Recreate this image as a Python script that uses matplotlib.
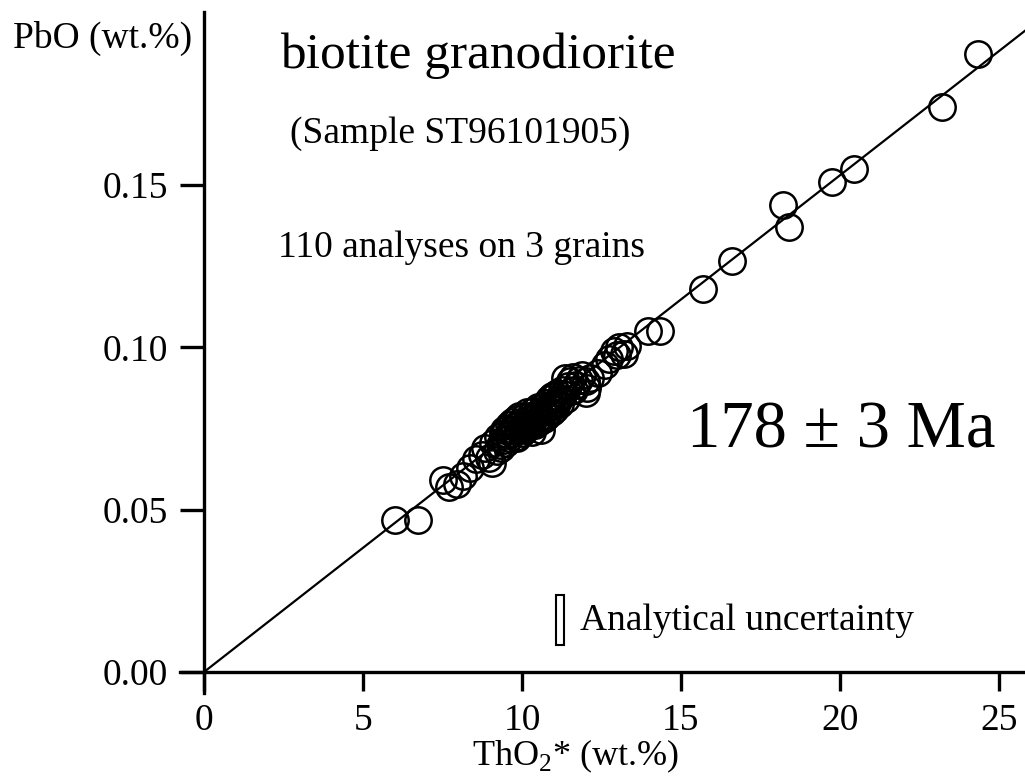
import matplotlib
matplotlib.use('Agg')
import matplotlib.pyplot as plt
from matplotlib.patches import Rectangle
import numpy as np

plt.rcParams['font.family'] = 'Liberation Serif'
plt.rcParams['mathtext.fontset'] = 'custom'
plt.rcParams['mathtext.rm'] = 'Liberation Serif'

# ThO2* and PbO (wt.%), 110 analyses
tho2 = [6.02, 6.73, 7.52, 7.70, 7.95, 8.15, 8.35, 8.55, 8.75, 8.85, 8.95, 9.05, 9.10, 9.20,
        9.25, 9.30, 9.35, 9.40, 9.45, 9.50, 9.50, 9.55, 9.60, 9.60, 9.65, 9.70, 9.70, 9.75,
        9.80, 9.80, 9.85, 9.90, 9.90, 9.95, 10.00, 10.00, 10.05, 10.10, 10.10, 10.15, 10.20,
        10.20, 10.25, 10.30, 10.30, 10.35, 10.40, 10.40, 10.45, 10.50, 10.50, 10.55, 10.60,
        10.60, 10.65, 10.70, 10.70, 10.75, 10.80, 10.80, 10.85, 10.90, 10.95, 11.00, 11.00,
        11.05, 11.10, 11.15, 11.20, 11.25, 11.30, 11.35, 11.40, 11.45, 11.50, 11.55, 11.60,
        11.70, 11.80, 11.90, 12.00, 12.00, 12.05, 12.15,
        9.85, 10.25, 10.55, 10.85, 11.10, 9.45, 10.95, 11.65,
        12.40, 12.60, 12.75, 12.90, 13.00, 13.05, 13.30, 13.20, 13.95, 14.35, 15.69, 16.60,
        18.20, 18.40, 19.75, 20.45, 23.20, 24.35]
pbo = [0.0468, 0.0468, 0.0592, 0.0570, 0.0580, 0.0603, 0.0628, 0.0655, 0.0668, 0.0690,
       0.0660, 0.0645, 0.0705, 0.0680,
       0.0725, 0.0700, 0.0690, 0.0735, 0.0715, 0.0750, 0.0705, 0.0730, 0.0760, 0.0720,
       0.0745, 0.0770, 0.0735, 0.0755, 0.0725, 0.0780, 0.0760, 0.0745, 0.0790, 0.0770,
       0.0755, 0.0735, 0.0785, 0.0765, 0.0745, 0.0800, 0.0775, 0.0755, 0.0790, 0.0770,
       0.0740, 0.0805, 0.0785, 0.0760, 0.0795, 0.0815, 0.0775, 0.0800, 0.0745, 0.0790,
       0.0820, 0.0805, 0.0780, 0.0830, 0.0810, 0.0790, 0.0840, 0.0820, 0.0800, 0.0850,
       0.0830, 0.0810, 0.0860, 0.0840, 0.0825, 0.0870, 0.0855, 0.0905, 0.0840, 0.0880,
       0.0895, 0.0865, 0.0910, 0.0885, 0.0900, 0.0915, 0.0895, 0.0860, 0.0875, 0.0905,
       0.0720, 0.0760, 0.0770, 0.0805, 0.0830, 0.0745, 0.0850, 0.0870,
       0.0920, 0.0945, 0.0965, 0.0990, 0.0975, 0.1000, 0.1005, 0.0980, 0.1050, 0.1050,
       0.1180, 0.1265, 0.1440, 0.1370, 0.1510, 0.1550, 0.1740, 0.1905]

# isochron through the origin
slope = 0.00765
line_x = [0, 26]

fig = plt.figure(figsize=(10.25, 7.78), dpi=100)
ax = fig.add_axes([180/1025, 85/778, 845/1025, 681/778])

ax.plot(line_x, [slope * v for v in line_x], color='black', lw=1.6, zorder=2)
ax.plot(tho2, pbo, 'o', mfc='none', mec='black', ms=19, mew=1.8, zorder=3)

# analytical uncertainty box
ax.add_patch(Rectangle((11.07, 0.0083), 0.25, 0.0154, fill=False, ec='black', lw=1.5))

ax.set_xlim(-0.755, 25.82)
ax.set_ylim(-0.00647, 0.2033)
ax.spines['left'].set_position(('data', 0))
ax.spines['bottom'].set_position(('data', 0))
ax.spines['top'].set_visible(False)
ax.spines['right'].set_visible(False)
for s in ['left', 'bottom']:
    ax.spines[s].set_linewidth(2.4)

ax.set_xticks([0, 5, 10, 15, 20, 25])
ax.set_yticks([0.0, 0.05, 0.10, 0.15])
ax.set_yticklabels(['0.00', '0.05', '0.10', '0.15'])
ax.tick_params(axis='y', direction='out', length=17, width=2.4, pad=9, labelsize=27)
ax.tick_params(axis='x', direction='out', length=14, width=2.4, pad=9, labelsize=27)

def px(x, y):
    return x / 1025, 1 - y / 778

fig.text(*px(13, 48), 'PbO (wt.%)', fontsize=27, ha='left', va='baseline')
fig.text(*px(280, 68), 'biotite granodiorite', fontsize=37, ha='left', va='baseline')
fig.text(*px(290, 143), '(Sample ST96101905)', fontsize=27, ha='left', va='baseline')
fig.text(*px(278, 257), '110 analyses on 3 grains', fontsize=27, ha='left', va='baseline')
fig.text(*px(687, 448), '178 ± 3 Ma', fontsize=48, ha='left', va='baseline')
fig.text(*px(580, 630), 'Analytical uncertainty', fontsize=27, ha='left', va='baseline')
fig.text(*px(472, 765), r'ThO$_2$* (wt.%)', fontsize=26, ha='left', va='baseline')

fig.savefig('out.png', dpi=100)
